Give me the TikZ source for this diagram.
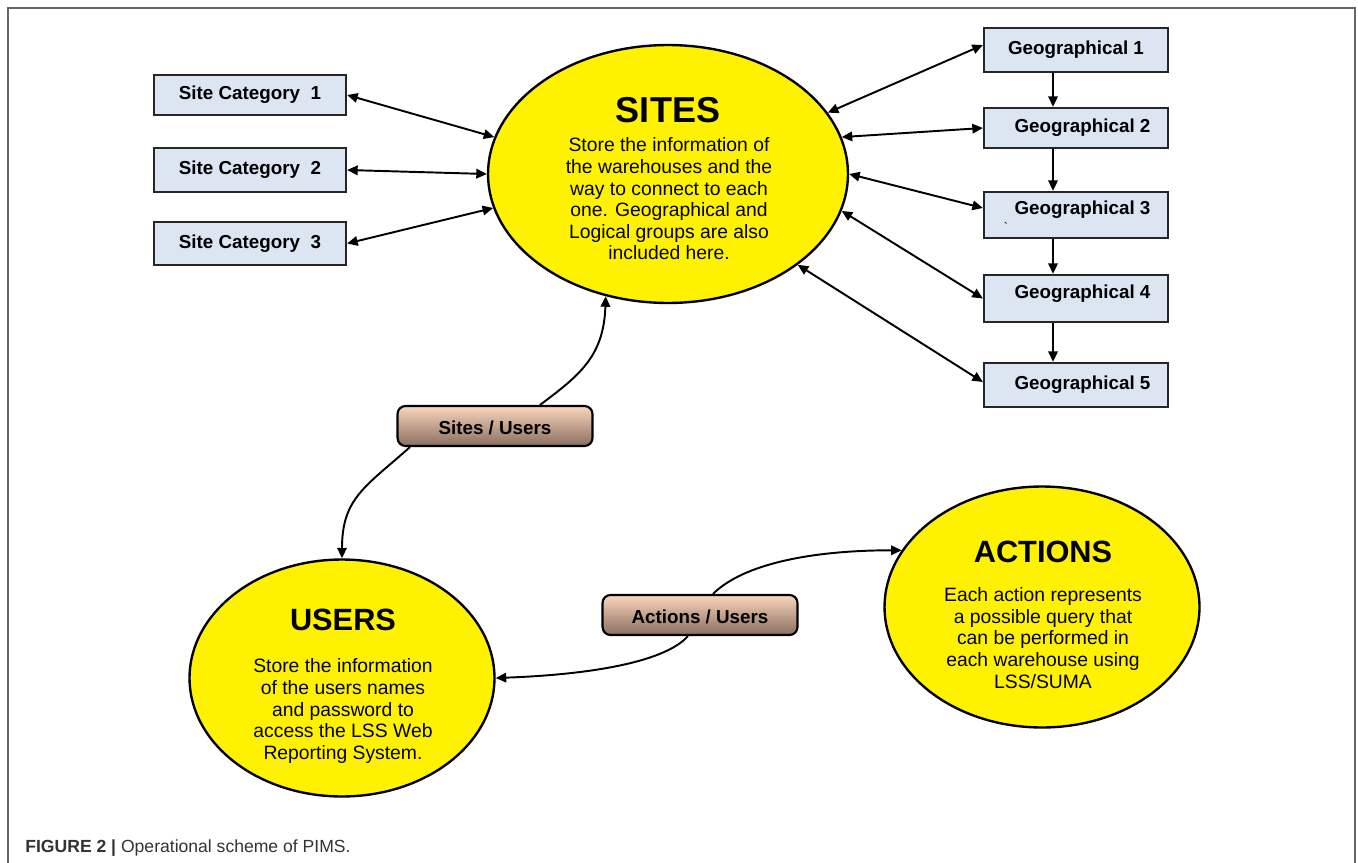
\documentclass[tikz,border=0pt]{standalone}
\usepackage{fontspec}
\setmainfont{Liberation Sans}
\usetikzlibrary{shapes.geometric,arrows.meta}

\definecolor{boxblue}{RGB}{220,230,242}
\definecolor{peach}{RGB}{250,214,188}
\definecolor{brownish}{RGB}{138,110,96}

\newcommand{\shifttext}[2]{\raisebox{#1}[0.72em][0.22em]{#2}}

\tikzset{
 catbox/.style={draw=black!85,line width=1.3pt,fill=boxblue,minimum width=38.4mm,inner sep=0pt,font=\bfseries\fontsize{10.7}{12}\selectfont},
 oval/.style={ellipse,draw,line width=1.35pt,fill=yellow,inner sep=0pt},
 linkbox/.style={draw,line width=1.2pt,rounded corners=1.6mm,top color=peach,bottom color=brownish,minimum width=39mm,minimum height=8mm,inner sep=0pt,font=\bfseries\fontsize{10.7}{12}\selectfont},
 ovaltitle/.style={font=\bfseries\fontsize{17.5}{20}\selectfont},
 ovaltext/.style={align=center,font=\fontsize{11}{12.3}\selectfont},
 conn/.style={line width=1.1pt,>={Triangle[length=6pt,width=5.4pt]}},
}

\begin{document}
\begin{tikzpicture}[x=0.02cm,y=-0.02cm]
 \useasboundingbox (0,0) rectangle (1358,862);
 \draw[black!60,line width=1pt] (8,870)--(8,8)--(1355,8)--(1355,870); %frame

 %ovals
 \node[oval,minimum width=72mm,minimum height=51.6mm] (sites) at (668,174) {};
 \node[oval,minimum width=61mm,minimum height=47.4mm] (users) at (342,678) {};
 \node[oval,minimum width=63mm,minimum height=48.2mm] (actions) at (1042,607) {};
 \node[font=\bfseries\fontsize{20.5}{24}\selectfont] (sitesT) at (668,110) {SITES};
 \node[ovaltext] (sitesB) at (669,199) {Store the information of\\the warehouses and the\\way to connect to each\\one. Geographical and\\Logical groups are also\\included here.};
 \node[ovaltitle] (usersT) at (343,620) {USERS};
 \node[ovaltext] (usersB) at (343,711) {Store the information\\of the users names\\and password to\\access the LSS Web\\Reporting System.};
 \node[ovaltitle] (actionsT) at (1043,552) {ACTIONS};
 \node[ovaltext] (actionsB) at (1043,638) {Each action represents\\a possible query that\\can be performed in\\each warehouse using\\LSS/SUMA};

 %site categories
 \node[catbox,minimum height=8mm] (cat1) at (250,95) {Site Category\ \ 1};
 \node[catbox,minimum height=8.8mm] (cat2) at (250,170) {Site Category\ \ 2};
 \node[catbox,minimum height=8.6mm] (cat3) at (250,243.5) {Site Category\ \ 3};
 \draw[conn,<->] (cat1.east)--(sites.168);
 \draw[conn,<->] (cat2.east)--(sites.180);
 \draw[conn,<->] (cat3.east)--(sites.191);

 %geographical groups
 \node[catbox,minimum width=36.8mm,minimum height=8.8mm] (geo1) at (1076,50) {Geographical 1};
 \node[catbox,minimum width=36.8mm,minimum height=8mm] (geo2) at (1076,128) {\hspace*{2.6mm}Geographical 2};
 \node[catbox,minimum width=36.8mm,minimum height=9.2mm] (geo3) at (1076,215) {\shifttext{1mm}{\hspace*{2.6mm}Geographical 3}};
 \node[catbox,minimum width=36.8mm,minimum height=9.4mm] (geo4) at (1076,298.5) {\shifttext{1mm}{\hspace*{2.6mm}Geographical 4}};
 \node[catbox,minimum width=36.8mm,minimum height=8.8mm] (geo5) at (1076,385) {\hspace*{2.6mm}Geographical 5};
 \node[font=\fontsize{7}{8}\selectfont,inner sep=0pt] (tick) at (1006,227) {\textasciigrave};
 \draw[conn,<->] (sites.21)--([yshift=1mm]geo1.west);
 \draw[conn,<->] (sites.12)--(geo2.west);
 \draw[conn,<->] (sites.0)--([yshift=1.4mm]geo3.west);
 \draw[conn,<->] (sites.-12)--(geo4.west);
 \draw[conn,<->] (sites.-35)--([yshift=0.6mm]geo5.west);
 \foreach \a/\b in {1/2,2/3,3/4,4/5}
  \draw[conn,->] ([xshift=-4.6mm]geo\a.south)--([xshift=-4.6mm]geo\b.north);

 %link tables
 \node[linkbox] (su) at (495,426) {\shifttext{-0.8mm}{Sites / Users}};
 \node[linkbox] (au) at (700,615) {\shifttext{-0.8mm}{Actions / Users}};
 \draw[conn,->] ([xshift=9mm]su.north) .. controls +(40,-30) and +(-2,60) .. (sites.243);
 \draw[conn,->] ([xshift=-17mm]su.south) .. controls +(-45,40) and +(0,-60) .. (users.90);
 \draw[conn,->] ([xshift=2.6mm]au.north) .. controls +(30,-30) and +(-90,0) .. (actions.158);
 \draw[conn,->] ([xshift=-2.4mm]au.south) .. controls +(-25,28) and +(85,-3) .. (users.0);

 \node[anchor=base west,inner sep=0pt,text=black!80,font=\fontsize{10}{12}\selectfont] (caption) at (25,852) {\textbf{FIGURE 2 |} Operational scheme of PIMS.};
\end{tikzpicture}
\end{document}
